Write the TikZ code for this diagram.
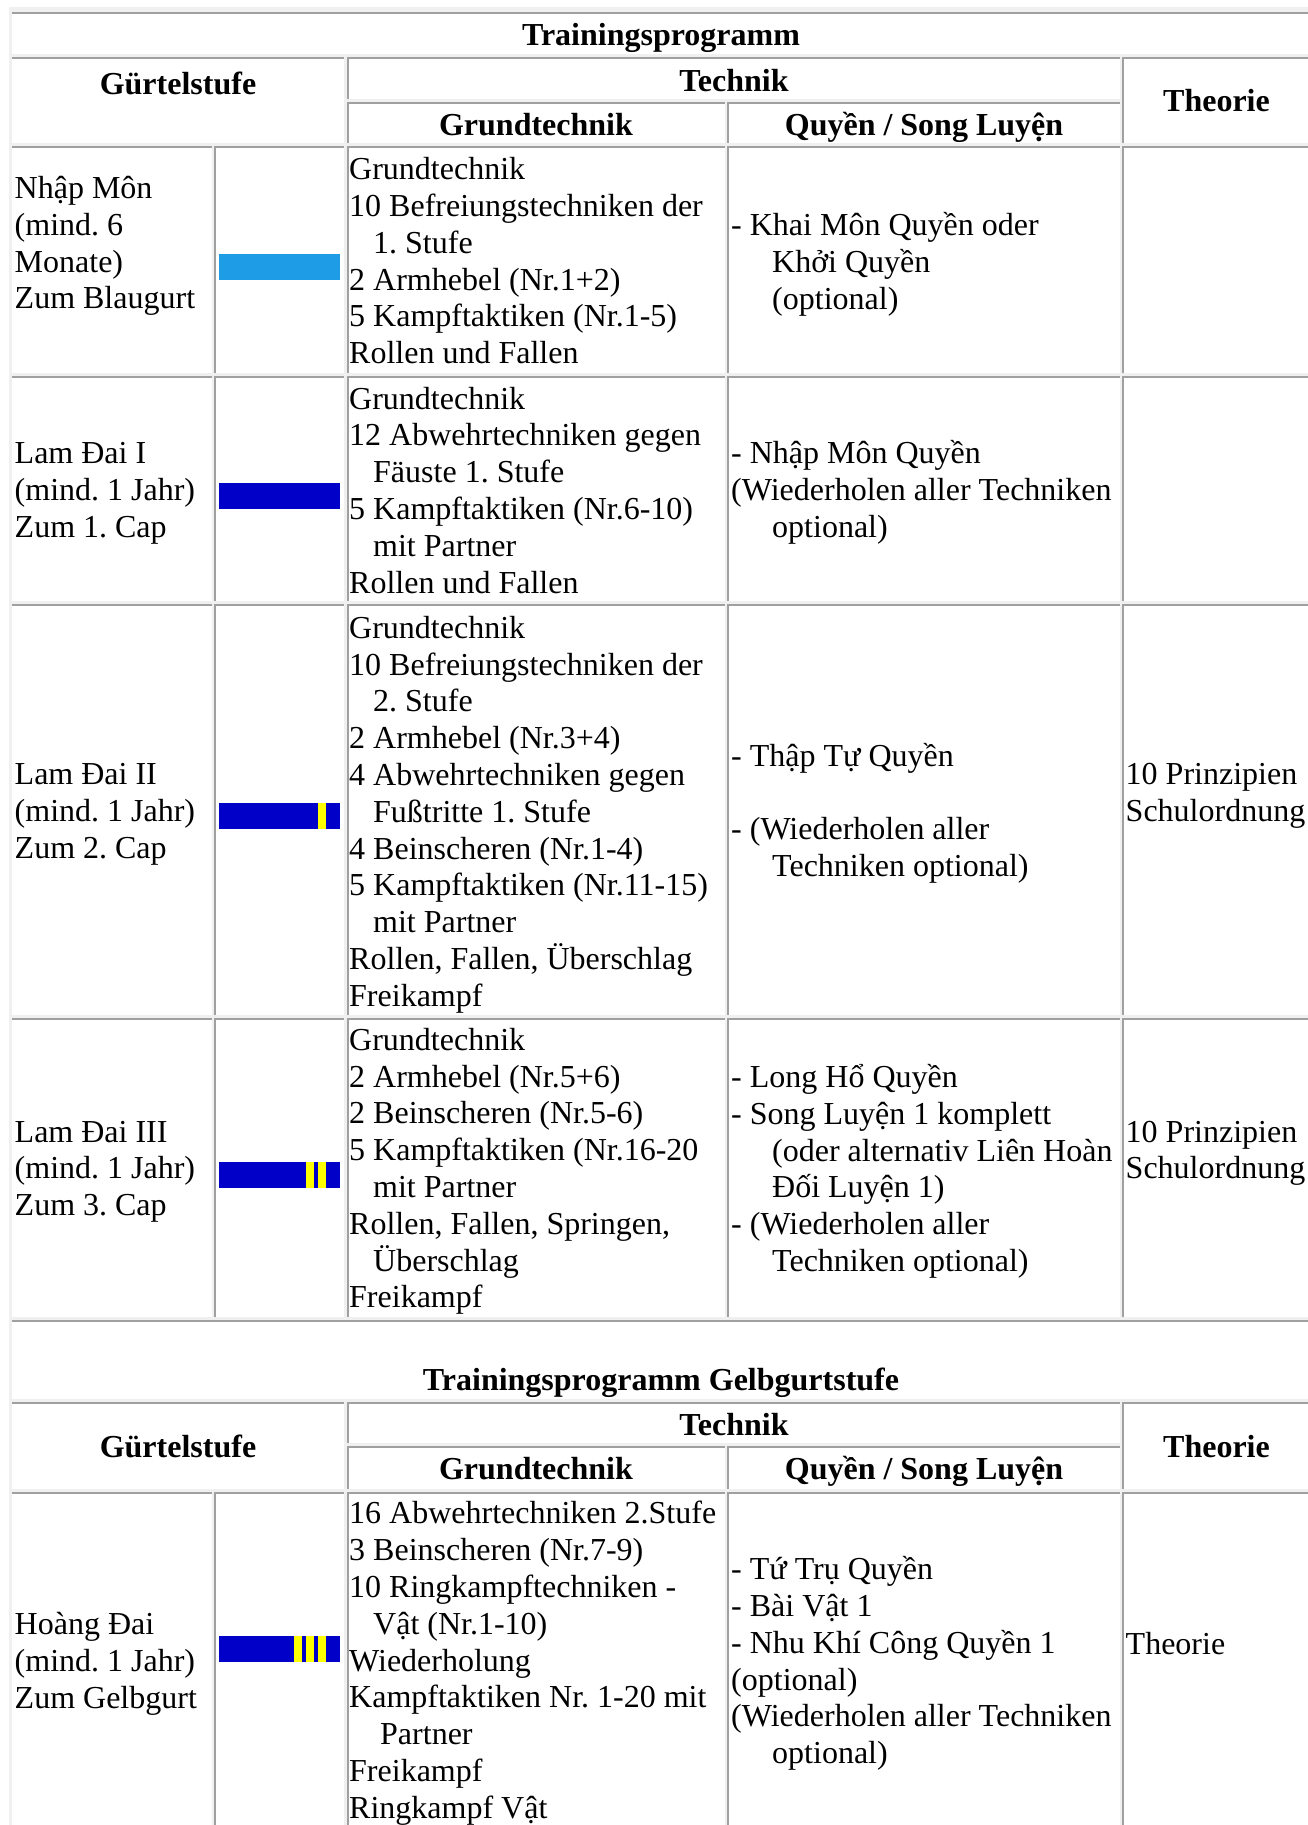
\documentclass[tikz,border=0pt]{standalone}
\usepackage{fontspec}
\setmainfont{Liberation Serif}
\frenchspacing
\definecolor{dk}{HTML}{A0A0A0}
\definecolor{lg}{HTML}{F0F0F0}
\definecolor{beltlight}{HTML}{1E9DE6}
\definecolor{beltdark}{HTML}{0000C8}
\definecolor{stripe}{HTML}{FFFF00}
% cell without dark left edge: L T R B
\newcommand\cellA[4]{\fill[white] (#1,#2) rectangle ({#3-2.5},{#4-3});
  \fill[dk] (#1,#2) rectangle ({#3-2.5},{#2+2});}
% cell with dark left edge
\newcommand\cellB[4]{\cellA{#1}{#2}{#3}{#4}\fill[dk] (#1,#2) rectangle ({#1+2},{#4-3});}
% one node per line: name, x, first baseline, list of lines
\newcommand\celltext[4]{\foreach \t [count=\i] in {#4}{\node[txt] (#1-\i) at (#2,{#3+(\i-1)*36.8}) {\t};}}
\newcommand\ind{\hspace*{24pt}}
\newcommand\indq{\hspace*{41pt}}
\begin{document}
\begin{tikzpicture}[x=1pt,y=-1pt,
  txt/.style={inner sep=0pt, anchor=base west, font=\fontsize{32}{36.8}\selectfont\frenchspacing},
  hdr/.style={inner sep=0pt, anchor=base, font=\fontsize{32}{36.8}\selectfont\bfseries\frenchspacing}]
\useasboundingbox (0,0) rectangle (1308,1825);
\clip (0,0) rectangle (1308,1825);
\fill[white] (0,0) rectangle (1308,1825);
\fill[lg] (9,7) rectangle (1330,1850);
% ---- table 1 ----
\cellA{12}{12}{1330}{57}
\cellA{12}{57}{346.7}{146}
\cellB{346.7}{57}{1122}{102}
\cellB{346.7}{102}{727.3}{146}
\cellB{727.3}{102}{1122}{146}
\cellB{1122}{57}{1330}{146}
\foreach \T/\B in {146/376, 376/603.5, 603.5/1017.7, 1017.7/1320}{
  \cellA{12}{\T}{214}{\B}
  \cellB{214}{\T}{346.7}{\B}
  \cellB{346.7}{\T}{727.3}{\B}
  \cellB{727.3}{\T}{1122}{\B}
  \cellB{1122}{\T}{1330}{\B}
}
% ---- gap row / title 2 ----
\cellA{12}{1320}{1330}{1402}
% ---- table 2 header ----
\cellA{12}{1402}{346.7}{1492}
\cellB{346.7}{1402}{1122}{1446}
\cellB{346.7}{1446}{727.3}{1492}
\cellB{727.3}{1446}{1122}{1492}
\cellB{1122}{1402}{1330}{1492}
\cellA{12}{1492}{214}{1850}
\cellB{214}{1492}{346.7}{1850}
\cellB{346.7}{1492}{727.3}{1850}
\cellB{727.3}{1492}{1122}{1850}
\cellB{1122}{1492}{1330}{1850}
% ---- headers ----
\node[hdr] (t1) at (661,46) {Trainingsprogramm};
\node[hdr] (h1a) at (178,94.5) {Gürtelstufe};
\node[hdr] (h1b) at (734,91.3) {Technik};
\node[hdr] (h1c) at (536,135.5) {Grundtechnik};
\node[hdr] (h1d) at (924,135.5) {Quyền / Song Luyện};
\node[hdr] (h1e) at (1216.5,112) {Theorie};
\node[hdr] (t2) at (661,1390) {Trainingsprogramm Gelbgurtstufe};
\node[hdr] (h2a) at (178,1457.5) {Gürtelstufe};
\node[hdr] (h2b) at (734,1435.4) {Technik};
\node[hdr] (h2c) at (536,1479.6) {Grundtechnik};
\node[hdr] (h2d) at (924,1479.6) {Quyền / Song Luyện};
\node[hdr] (h2e) at (1216.5,1457.5) {Theorie};
% ---- belts ----
\fill[beltlight] (219,254) rectangle (340,279.5);
\fill[beltdark] (219,483) rectangle (340,508.5);
\fill[beltdark] (219,803) rectangle (340,829);
\fill[stripe] (318,803) rectangle (326,829);
\fill[beltdark] (219,1162) rectangle (340,1187.5);
\fill[stripe] (305.5,1162) rectangle (314,1187.5);
\fill[stripe] (318,1162) rectangle (326,1187.5);
\fill[beltdark] (219,1636) rectangle (340,1661.5);
\fill[stripe] (293.5,1636) rectangle (302,1661.5);
\fill[stripe] (305.7,1636) rectangle (314,1661.5);
\fill[stripe] (318.3,1636) rectangle (326,1661.5);
% ---- row 1 ----
\celltext{r1a}{14.5}{198.4}{{Nhập Môn},{(mind. 6},{Monate)},{Zum Blaugurt}}
\celltext{r1c}{349}{179.7}{{Grundtechnik},{10 Befreiungstechniken der},{\ind 1. Stufe},{2 Armhebel (Nr.1+2)},{5 Kampftaktiken (Nr.1-5)},{Rollen und Fallen}}
\celltext{r1d}{731}{235.6}{{- Khai Môn Quyền oder},{\indq Khởi Quyền},{\indq (optional)}}
% ---- row 2 ----
\celltext{r2a}{14.5}{463.7}{{Lam Đai I},{(mind. 1 Jahr)},{Zum 1. Cap}}
\celltext{r2c}{349}{409}{{Grundtechnik},{12 Abwehrtechniken gegen},{\ind Fäuste 1. Stufe},{5 Kampftaktiken (Nr.6-10)},{\ind mit Partner},{Rollen und Fallen}}
\celltext{r2d}{731}{463.7}{{- Nhập Môn Quyền},{(Wiederholen aller Techniken},{\indq optional)}}
% ---- row 3 ----
\celltext{r3a}{14.5}{784.9}{{Lam Đai II},{(mind. 1 Jahr)},{Zum 2. Cap}}
\celltext{r3c}{349}{638.2}{{Grundtechnik},{10 Befreiungstechniken der},{\ind 2. Stufe},{2 Armhebel (Nr.3+4)},{4 Abwehrtechniken gegen},{\ind Fußtritte 1. Stufe},{4 Beinscheren (Nr.1-4)},{5 Kampftaktiken (Nr.11-15)},{\ind mit Partner},{Rollen, Fallen, Überschlag},{Freikampf}}
\celltext{r3d}{731}{766.2}{{- Thập Tự Quyền}}
\celltext{r3dd}{731}{839.8}{{- (Wiederholen aller},{\indq Techniken optional)}}
\celltext{r3e}{1125.5}{784.9}{{10 Prinzipien},{Schulordnung}}
% ---- row 4 ----
\celltext{r4a}{14.5}{1142}{{Lam Đai III},{(mind. 1 Jahr)},{Zum 3. Cap}}
\celltext{r4c}{349}{1050.2}{{Grundtechnik},{2 Armhebel (Nr.5+6)},{2 Beinscheren (Nr.5-6)},{5 Kampftaktiken (Nr.16-20},{\ind mit Partner},{Rollen, Fallen, Springen,},{\ind Überschlag},{Freikampf}}
\celltext{r4d}{731}{1087.4}{{- Long Hổ Quyền},{- Song Luyện 1 komplett},{\indq (oder alternativ Liên Hoàn},{\indq Đối Luyện 1)},{- (Wiederholen aller},{\indq Techniken optional)}}
\celltext{r4e}{1125.5}{1142}{{10 Prinzipien},{Schulordnung}}
% ---- row 5 ----
\celltext{r5a}{14.5}{1634.4}{{Hoàng Đai},{(mind. 1 Jahr)},{Zum Gelbgurt}}
\celltext{r5c}{349}{1523.8}{{16 Abwehrtechniken 2.Stufe},{3 Beinscheren (Nr.7-9)},{10 Ringkampftechniken -},{\ind Vật (Nr.1-10)},{Wiederholung},{Kampftaktiken Nr. 1-20 mit},{\hspace*{31pt}Partner},{Freikampf},{Ringkampf Vật}}
\celltext{r5d}{731}{1579.6}{{- Tứ Trụ Quyền},{- Bài Vật 1},{- Nhu Khí Công Quyền 1},{(optional)},{(Wiederholen aller Techniken},{\indq optional)}}
\celltext{r5e}{1125.5}{1654.1}{{Theorie}}
\end{tikzpicture}
\end{document}
